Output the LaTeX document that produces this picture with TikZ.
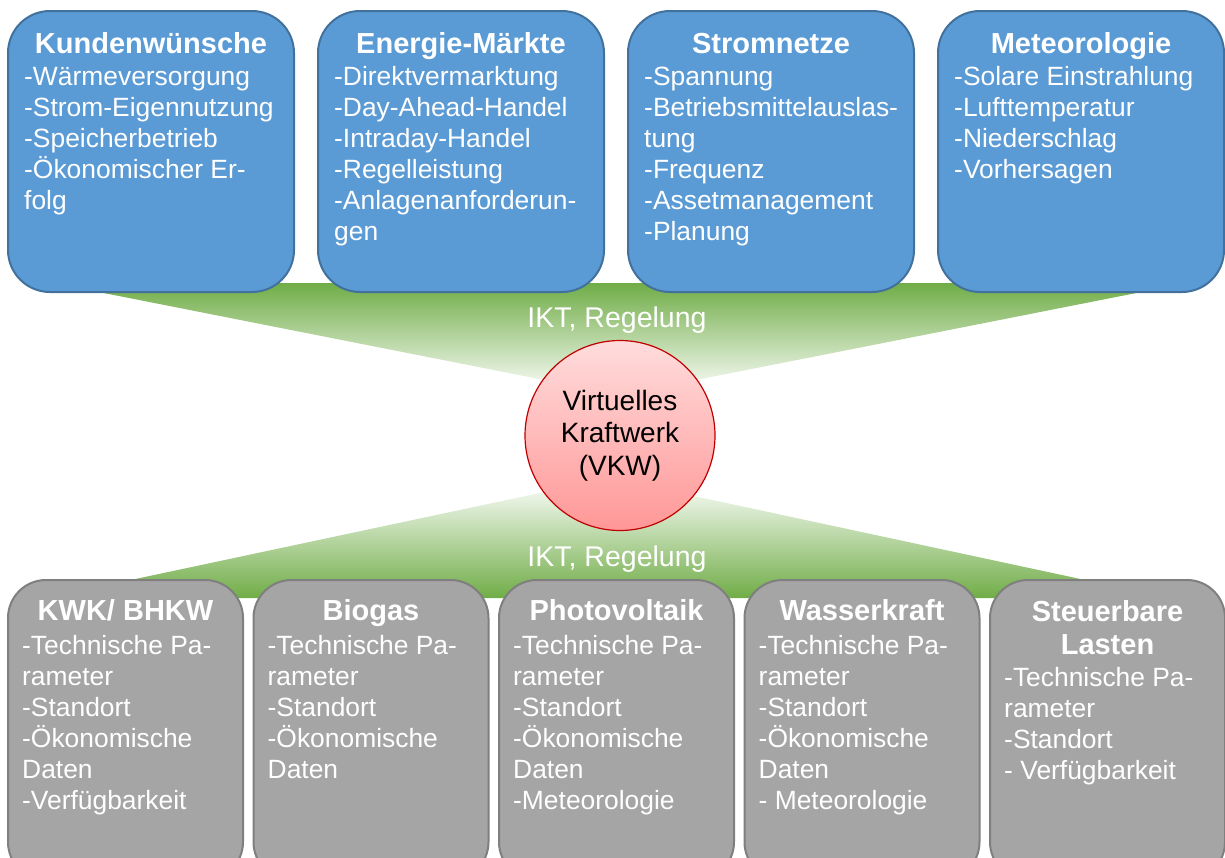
\documentclass[tikz,border=0pt]{standalone}
\usepackage{fontspec}
\setmainfont{Liberation Sans}
\definecolor{boxblue}{HTML}{5B9BD5}
\definecolor{boxblueline}{HTML}{41719C}
\definecolor{boxgrey}{HTML}{A5A5A5}
\definecolor{boxgreyline}{HTML}{7F7F7F}
\definecolor{iktgreen}{HTML}{70AD47}
\definecolor{vkwtop}{HTML}{FFDCDC}
\definecolor{vkwbottom}{HTML}{FF9797}
\definecolor{vkwline}{HTML}{C00000}
\tikzset{
  topbox/.style={draw=boxblueline, fill=boxblue, line width=2pt, rounded corners=42pt,
    minimum width=286pt, minimum height=281pt, inner sep=0pt},
  lowbox/.style={draw=boxgreyline, fill=boxgrey, line width=2pt, rounded corners=38pt,
    minimum width=235pt, minimum height=300pt, inner sep=0pt},
  boxtitle/.style={text=white, font=\fontsize{29}{33}\selectfont\bfseries, align=center, inner sep=0pt},
  boxbody/.style={text=white, font=\fontsize{26.4}{31}\selectfont, inner sep=0pt},
  iktlabel/.style={text=white, font=\fontsize{28.5}{31}\selectfont, inner sep=0pt},
  vkw/.style={circle, draw=vkwline, line width=1.2pt, top color=vkwtop, bottom color=vkwbottom,
    minimum size=190pt, inner sep=0pt, align=center, font=\fontsize{28}{32.5}\selectfont}
}
\begin{document}
\begin{tikzpicture}[x=1pt,y=-1pt]
  \useasboundingbox (0,0) rectangle (1225,857);
  \clip (0,0) rectangle (1225,857);
  % IKT, Regelung
  \shade[top color=iktgreen, bottom color=white] (53,283) -- (1187,283) -- (620,395) -- cycle;
  \shade[top color=white, bottom color=iktgreen] (610,478) -- (1169,598) -- (46,598) -- cycle;
  % Anforderungen oben
  \foreach \i/\name/\title/\items in {
      0/kunden/Kundenwünsche/{-Wärmeversorgung\\-Strom-Eigennutzung\\-Speicherbetrieb\\-Ökonomischer Er-\\folg},
      1/maerkte/Energie-Märkte/{-Direktvermarktung\\-Day-Ahead-Handel\\-Intraday-Handel\\-Regelleistung\\-Anlagenanforderun-\\gen},
      2/netze/Stromnetze/{-Spannung\\-Betriebsmittelauslas-\\tung\\-Frequenz\\-Assetmanagement\\-Planung},
      3/meteo/Meteorologie/{-Solare Einstrahlung\\-Lufttemperatur\\-Niederschlag\\-Vorhersagen}} {
    \node[topbox] (\name) at (151+310*\i,151.5) {};
    \node[boxtitle, anchor=base] (\name-title) at (151+310*\i,53) {\title};
    \node[boxbody, anchor=base west] (\name-body) at (24+310*\i,85)
      {\parbox[t]{280pt}{\raggedright\items}};
  }
  % Anlagen unten
  \foreach \i/\name/\title/\ty/\by/\items in {
      0/kwk/{KWK/ BHKW}/620/654/{-Technische Pa-\\rameter\\-Standort\\-Ökonomische\\Daten\\-Verfügbarkeit},
      1/biogas/Biogas/620/654/{-Technische Pa-\\rameter\\-Standort\\-Ökonomische\\Daten},
      2/pv/Photovoltaik/620/654/{-Technische Pa-\\rameter\\-Standort\\-Ökonomische\\Daten\\-Meteorologie},
      3/wasser/Wasserkraft/620/654/{-Technische Pa-\\rameter\\-Standort\\-Ökonomische\\Daten\\- Meteorologie},
      4/lasten/{Steuerbare\\Lasten}/654/686/{-Technische Pa-\\rameter\\-Standort\\- Verfügbarkeit}} {
    \node[lowbox] (\name) at (125.5+245.5*\i,730) {};
    \node[boxtitle, anchor=base] (\name-title) at (125.5+245.5*\i,\ty) {\title};
    \node[boxbody, anchor=base west] (\name-body) at (22+245.5*\i,\by)
      {\parbox[t]{230pt}{\raggedright\items}};
  }
  % VKW
  \node[vkw] (vkw) at (620,435.5) {Virtuelles\\Kraftwerk\\(VKW)};
  \node[iktlabel, anchor=base] (ikt-oben) at (617,327) {IKT, Regelung};
  \node[iktlabel, anchor=base] (ikt-unten) at (617,566) {IKT, Regelung};
\end{tikzpicture}
\end{document}
